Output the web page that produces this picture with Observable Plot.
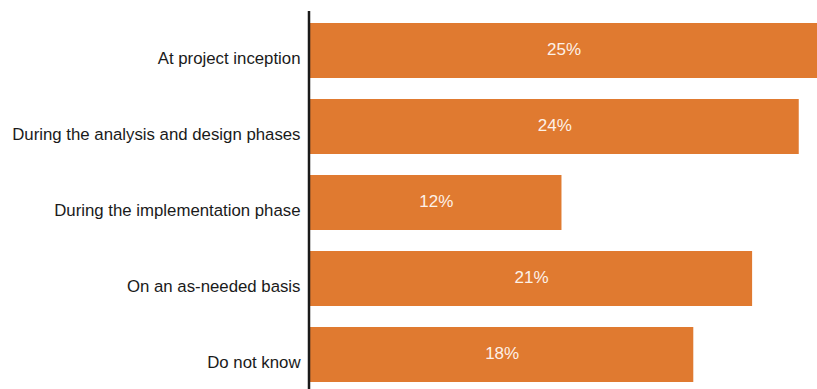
<!DOCTYPE html>
<html>
<head>
<meta charset="utf-8">
<script src="https://cdn.jsdelivr.net/npm/d3@7"></script>
<script src="https://cdn.jsdelivr.net/npm/@observablehq/plot@0.6"></script>
<style>
  html, body { margin: 0; padding: 0; background: #fff; }
  #chart svg { display: block; }
</style>
</head>
<body>
<div id="chart"></div>
<script>
const categories = [
  "At project inception",
  "During the analysis and design phases",
  "During the implementation phase",
  "On an as-needed basis",
  "Do not know"
];
const values = [25.0, 24.1, 12.4, 21.8, 18.9];
const valueLabels = ["25%", "24%", "12%", "21%", "18%"];

const data = categories.map((c, i) => ({category: c, value: values[i], label: valueLabels[i]}));

const chart = Plot.plot({
  width: 817,
  height: 389,
  marginLeft: 310,
  marginRight: 0,
  marginTop: 11,
  marginBottom: 0,
  style: {fontFamily: "'Liberation Sans', Arial, Helvetica, sans-serif", background: "#fff"},
  x: {domain: [0, 25], axis: null},
  y: {domain: categories, paddingInner: 0.27, paddingOuter: 0, insetTop: 10, insetBottom: 5, axis: null},
  marks: [
    Plot.barX(data, {x: "value", y: "category", fill: "#e07a30"}),
    Plot.text(data, {x: d => d.value / 2, y: "category", text: "label", fill: "#fdf1e8", fontSize: 17, dy: -1}),
    Plot.text(data, {x: 0, y: "category", text: "category", textAnchor: "end", dx: -10, dy: 8, fill: "#1a1a1a", fontSize: 16.8}),
    Plot.ruleX([0], {dx: -1.5, stroke: "#1a1a1a", strokeWidth: 2.5})
  ]
});
document.getElementById("chart").append(chart);
</script>
</body>
</html>
